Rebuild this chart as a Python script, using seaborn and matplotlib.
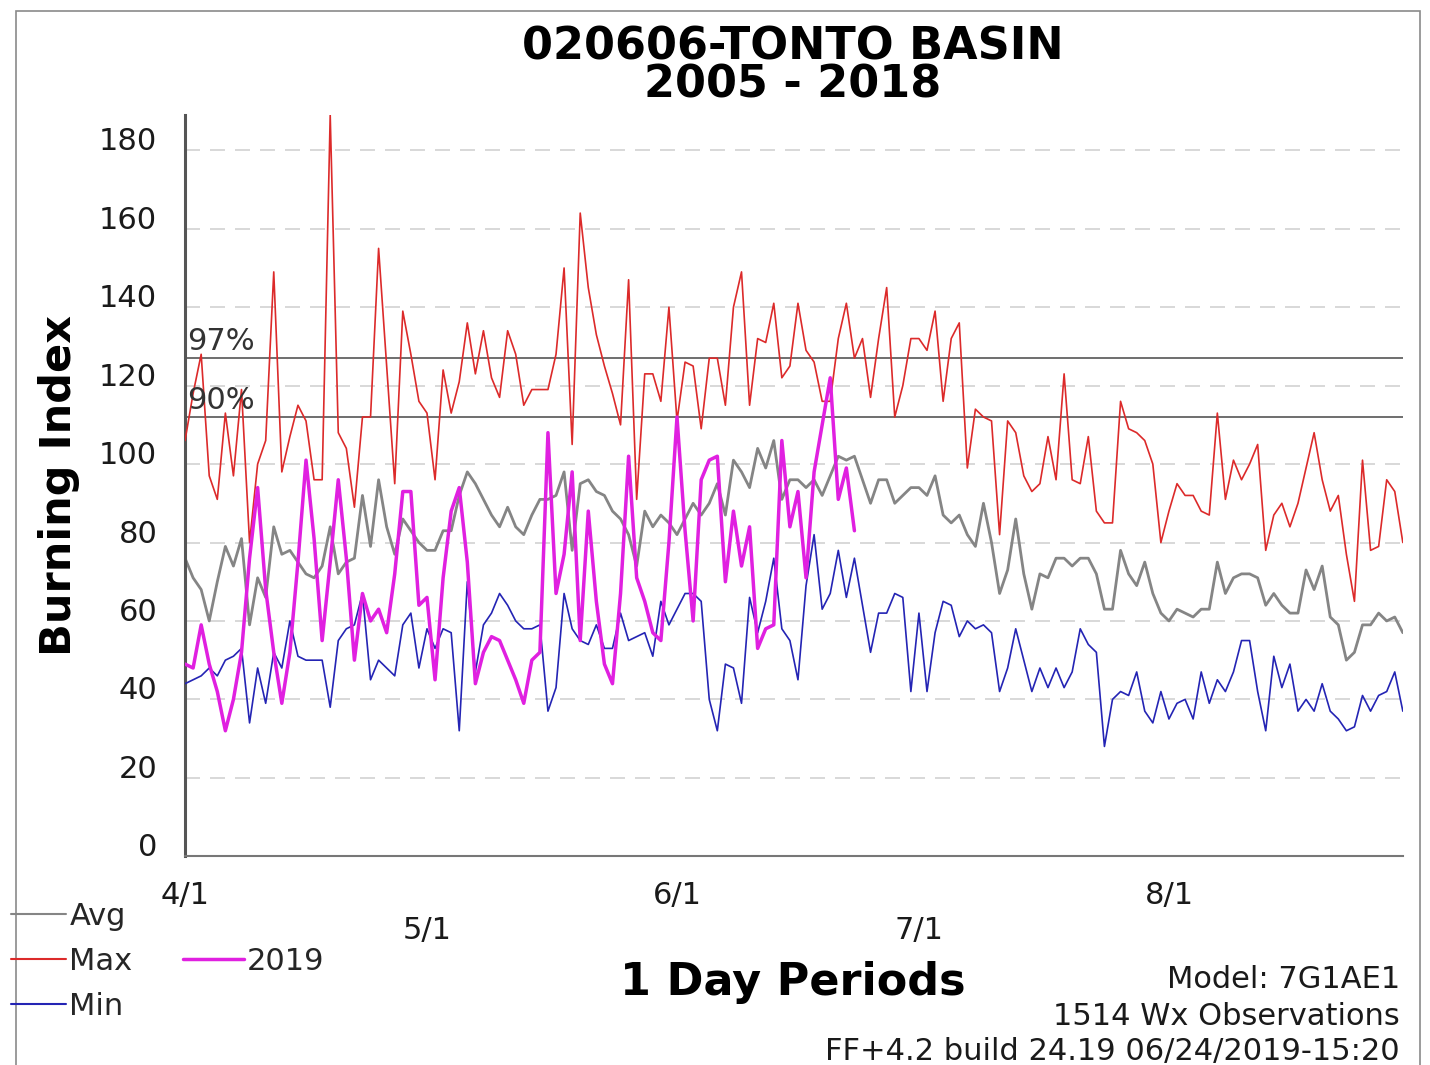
import numpy as np
import pandas as pd
import matplotlib
matplotlib.use("Agg")
import matplotlib.pyplot as plt
from matplotlib.lines import Line2D
from matplotlib.patches import Rectangle
import seaborn as sns

# Daily Burning Index, 4/1 .. 8/30 (day 0 = 4/1)
max_bi = [106, 118, 128, 97, 91, 113, 97, 119, 80, 100, 106, 149, 98, 107, 115, 111, 96, 96, 189, 108,
          104, 89, 112, 112, 155, 125, 95, 139, 128, 116, 113, 96, 124, 113, 121, 136, 123, 134, 122, 117,
          134, 128, 115, 119, 119, 119, 128, 150, 105, 164, 145, 133, 125, 118, 110, 147, 91, 123, 123, 116,
          140, 111, 126, 125, 109, 127, 127, 115, 140, 149, 115, 132, 131, 141, 122, 125, 141, 129, 126, 116,
          116, 132, 141, 127, 132, 117, 132, 145, 112, 120, 132, 132, 129, 139, 116, 132, 136, 99, 114, 112,
          111, 82, 111, 108, 97, 93, 95, 107, 96, 123, 96, 95, 107, 88, 85, 85, 116, 109, 108, 106,
          100, 80, 88, 95, 92, 92, 88, 87, 113, 91, 101, 96, 100, 105, 78, 87, 90, 84, 90, 99,
          108, 96, 88, 92, 77, 65, 101, 78, 79, 96, 93, 80]
avg_bi = [76, 71, 68, 60, 70, 79, 74, 81, 59, 71, 66, 84, 77, 78, 75, 72, 71, 74, 84, 72,
          75, 76, 92, 79, 96, 84, 77, 86, 83, 80, 78, 78, 83, 83, 92, 98, 95, 91, 87, 84,
          89, 84, 82, 87, 91, 91, 92, 98, 78, 95, 96, 93, 92, 88, 86, 82, 74, 88, 84, 87,
          85, 82, 86, 90, 87, 90, 95, 87, 101, 98, 94, 104, 99, 106, 91, 96, 96, 94, 96, 92,
          97, 102, 101, 102, 96, 90, 96, 96, 90, 92, 94, 94, 92, 97, 87, 85, 87, 82, 79, 90,
          80, 67, 73, 86, 72, 63, 72, 71, 76, 76, 74, 76, 76, 72, 63, 63, 78, 72, 69, 75,
          67, 62, 60, 63, 62, 61, 63, 63, 75, 67, 71, 72, 72, 71, 64, 67, 64, 62, 62, 73,
          68, 74, 61, 59, 50, 52, 59, 59, 62, 60, 61, 57]
min_bi = [44, 45, 46, 48, 46, 50, 51, 53, 34, 48, 39, 52, 48, 60, 51, 50, 50, 50, 38, 55,
          58, 59, 67, 45, 50, 48, 46, 59, 62, 48, 58, 53, 58, 57, 32, 70, 47, 59, 62, 67,
          64, 60, 58, 58, 59, 37, 43, 67, 58, 55, 54, 59, 53, 53, 62, 55, 56, 57, 51, 65,
          59, 63, 67, 67, 65, 40, 32, 49, 48, 39, 66, 57, 65, 76, 58, 55, 45, 69, 82, 63,
          67, 78, 66, 76, 64, 52, 62, 62, 67, 66, 42, 62, 42, 57, 65, 64, 56, 60, 58, 59,
          57, 42, 48, 58, 50, 42, 48, 43, 48, 43, 47, 58, 54, 52, 28, 40, 42, 41, 47, 37,
          34, 42, 35, 39, 40, 35, 47, 39, 45, 42, 47, 55, 55, 42, 32, 51, 43, 49, 37, 40,
          37, 44, 37, 35, 32, 33, 41, 37, 41, 42, 47, 37]
bi_2019 = [49, 48, 59, 49, 42, 32, 40, 52, 76, 94, 68, 52, 39, 52, 75, 101, 81, 55, 75, 96,
           76, 50, 67, 60, 63, 57, 72, 93, 93, 64, 66, 45, 71, 88, 94, 75, 44, 52, 56, 55,
           50, 45, 39, 50, 52, 108, 67, 77, 98, 55, 88, 65, 49, 44, 67, 102, 71, 65, 57, 55,
           80, 112, 83, 60, 96, 101, 102, 70, 88, 74, 84, 53, 58, 59, 106, 84, 93, 71, 98, 110,
           122, 91, 99, 83]

month_days = [0, 30, 61, 91, 122]
month_labels = ['4/1', '\n5/1', '6/1', '\n7/1', '8/1']
pct_values = [127, 112]
pct_labels = ['97%', '90%']

days = np.arange(len(max_bi))
df = pd.DataFrame({'day': days, 'Avg': avg_bi, 'Max': max_bi, 'Min': min_bi})
df19 = pd.DataFrame({'day': np.arange(len(bi_2019)), '2019': bi_2019})

colors = {'Avg': '#858585', 'Max': '#dc2a2a', 'Min': '#2424b4', '2019': '#e020e0'}

sns.set_style("white")
plt.rcParams['font.family'] = ['DejaVu Sans']

fig = plt.figure(figsize=(14.3, 10.65), dpi=100)
ax = fig.add_axes([0.1294, 0.196, 0.8516, 0.696])

# grid + percentile lines
for v in range(20, 181, 20):
    ax.axhline(v, color='#d2d2d2', lw=1.2, ls=(0, (9, 6)), zorder=0)
for v, lab in zip(pct_values, pct_labels):
    ax.axhline(v, color='#555555', lw=1.2, zorder=1)
    ax.text(0.2, v + 0.5, lab, fontsize=22, color='#333333', ha='left', va='bottom', zorder=5)

sns.lineplot(data=df, x='day', y='Avg', color=colors['Avg'], lw=2.0, ax=ax, zorder=2)
sns.lineplot(data=df, x='day', y='Max', color=colors['Max'], lw=1.2, ax=ax, zorder=3)
sns.lineplot(data=df, x='day', y='Min', color=colors['Min'], lw=1.2, ax=ax, zorder=3)
sns.lineplot(data=df19, x='day', y='2019', color=colors['2019'], lw=2.5, ax=ax, zorder=4)

ax.set_xlim(0, 151)
ax.set_ylim(0, 189)
ax.set_xlabel('')
ax.set_ylabel('Burning Index', fontsize=31, fontweight='bold', labelpad=14, color='black')

ax.set_yticks(range(0, 181, 20))
ax.tick_params(axis='y', length=13, width=1.2, color='#555555', pad=7, labelsize=22, labelcolor='#1a1a1a')
for lab in ax.get_yticklabels():
    lab.set_verticalalignment('baseline')

ax.set_xticks(month_days)
ax.set_xticklabels(month_labels, linespacing=1.25)
ax.set_xticks(days, minor=True)
ax.tick_params(axis='x', which='major', direction='out', length=15, width=1.2, color='#666666',
               pad=3, labelsize=22, labelcolor='#1a1a1a')
ax.tick_params(axis='x', which='minor', direction='out', length=9, width=0.9, color='#777777')

for s in ['top', 'right']:
    ax.spines[s].set_visible(False)
ax.spines['left'].set_color('#555555')
ax.spines['left'].set_linewidth(2.2)
ax.spines['bottom'].set_color('#777777')
ax.spines['bottom'].set_linewidth(1.5)

fig.text(0.5545, 0.938, '020606-TONTO BASIN\n2005 - 2018', fontsize=32, fontweight='bold',
         ha='center', va='center', multialignment='center', linespacing=0.88, color='black')
fig.text(0.5545, 0.077, '1 Day Periods', fontsize=32, fontweight='bold', ha='center', va='center',
         color='black')

fig.text(0.979, 0.080, 'Model: 7G1AE1', fontsize=22, ha='right', va='center', color='#1a1a1a')
fig.text(0.979, 0.046, '1514 Wx Observations', fontsize=22, ha='right', va='center', color='#1a1a1a')
fig.text(0.979, 0.013, 'FF+4.2 build 24.19 06/24/2019-15:20', fontsize=22, ha='right', va='center',
         color='#1a1a1a')

h1 = [Line2D([0], [0], color=colors[k], lw=1.5) for k in ['Avg', 'Max', 'Min']]
fig.legend(h1, ['Avg', 'Max', 'Min'], loc='upper left', bbox_to_anchor=(0.008, 0.153),
           frameon=False, fontsize=22, handlelength=1.8, handletextpad=0.1,
           labelspacing=0.52, borderpad=0, borderaxespad=0)
h2 = [Line2D([0], [0], color=colors['2019'], lw=2.5)]
fig.legend(h2, ['2019'], loc='upper left', bbox_to_anchor=(0.128, 0.111), frameon=False, fontsize=22,
           handlelength=2.0, handletextpad=0.1, borderpad=0, borderaxespad=0)

fig.patches.append(Rectangle((0.011, -0.01), 0.982, 1.0, transform=fig.transFigure, fill=False,
                             edgecolor='#8a8a8a', lw=1.2))

fig.savefig('out.png', dpi=100)
